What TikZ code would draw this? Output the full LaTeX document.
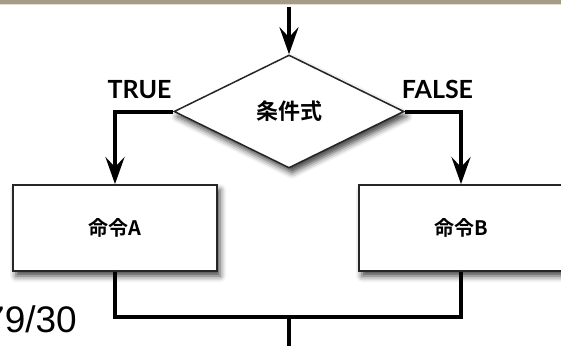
\documentclass[tikz,border=0pt]{standalone}
\usepackage{fontspec}
\setmainfont{Liberation Sans}
\newfontfamily\jpfont{Noto Sans CJK JP}[BoldFont=* Bold]
\newfontfamily\tagfont{Lato}
\usetikzlibrary{arrows.meta,shapes.geometric,shadows.blur}

\definecolor{bandcol}{RGB}{165,156,135}
\definecolor{bandlight}{RGB}{226,222,210}

\begin{document}
\begin{tikzpicture}[x=1pt, y=-1pt,
    flow/.style={line width=4pt, black},
    tip/.style={-{Stealth[length=27pt,width=19pt,inset=10pt]}},
    soft/.style={blur shadow={shadow xshift=3pt, shadow yshift=-5pt, shadow blur radius=6pt, shadow opacity=75}},
    cmdbox/.style={draw=black!85, line width=1.8pt, fill=white, soft, minimum width=204pt, minimum height=86pt, inner sep=0pt, font=\jpfont\bfseries\fontsize{20}{24}\selectfont},
    branch/.style={font=\tagfont\bfseries\fontsize{25}{28}\selectfont, inner sep=0pt}]
    \useasboundingbox (0,0) rectangle (561,345);

    % slide header band
    \fill[bandcol] (0,0) rectangle (561,4);
    \fill[bandlight] (0,4) rectangle (561,5.5);

    \node[draw=black!85, line width=1.5pt, fill=white, soft, diamond, minimum width=230pt, minimum height=113pt, inner sep=0pt, font=\jpfont\bfseries\fontsize{22}{26}\selectfont] (cond) at (289,111.5) {条件式};
    \node[cmdbox] (cmdA) at (115,228) {命令A};
    \node[cmdbox] (cmdB) at (461,228) {命令B};

    \node[branch, anchor=base] (true) at (139.5,98) {TRUE};
    \node[branch, anchor=base] (false) at (437.5,98) {FALSE};

    \node[anchor=base west, inner sep=0pt, font=\fontsize{37}{40}\selectfont] (date) at (-16,332) {79/30};

    \coordinate (start) at (289,7);
    \coordinate (join) at (289,317);
    \coordinate (exit) at (289,350);

    \draw[flow, tip] (start) -- (cond.north);
    \draw[flow, tip] (cond.west) -| (cmdA.north);
    \draw[flow, tip] (cond.east) -| (cmdB.north);
    \draw[flow] (cmdA.south) |- (join);
    \draw[flow] (cmdB.south) |- (join);
    \draw[flow] (join) -- (exit);
\end{tikzpicture}
\end{document}
